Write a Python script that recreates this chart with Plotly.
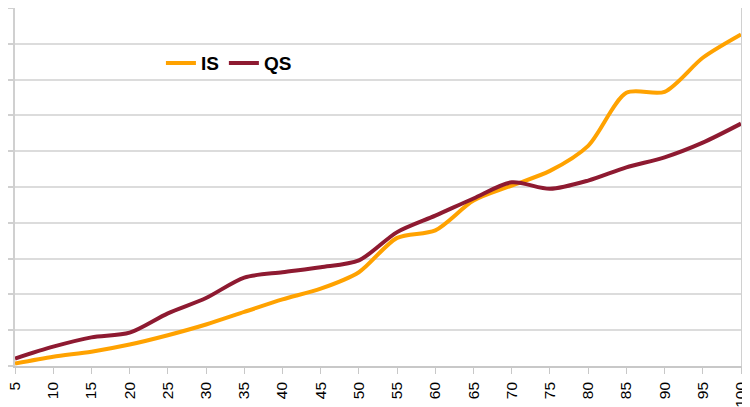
import plotly.graph_objects as go

x_values = [5, 10, 15, 20, 25, 30, 35, 40, 45, 50, 55, 60, 65, 70, 75, 80, 85, 90, 95, 100]
is_values = [0.07, 0.26, 0.40, 0.60, 0.86, 1.16, 1.51, 1.86, 2.16, 2.62, 3.58, 3.79, 4.62, 5.04, 5.45, 6.15, 7.63, 7.66, 8.61, 9.26]
qs_values = [0.21, 0.54, 0.80, 0.93, 1.47, 1.90, 2.47, 2.62, 2.76, 2.95, 3.74, 4.20, 4.68, 5.13, 4.95, 5.18, 5.55, 5.83, 6.24, 6.77]
y_ticks = list(range(0, 11))

fig = go.Figure()
fig.add_trace(go.Scatter(x=x_values, y=is_values, name="IS", mode="lines",
                         line=dict(color="#FFA200", width=4, shape="spline", smoothing=0.8)))
fig.add_trace(go.Scatter(x=x_values, y=qs_values, name="QS", mode="lines",
                         line=dict(color="#8E1A31", width=4, shape="spline", smoothing=0.8)))

fig.update_layout(
    width=750, height=407,
    margin=dict(l=7, r=17, t=0, b=49, autoexpand=False),
    paper_bgcolor="white", plot_bgcolor="white",
    font=dict(family="Liberation Sans, Arial, sans-serif", color="black"),
    legend=dict(orientation="h", x=0.201, y=0.846, xanchor="left", yanchor="middle",
                font=dict(size=19, family="Liberation Sans, Arial, sans-serif", color="black", weight="bold"),
                itemwidth=30, bgcolor="rgba(0,0,0,0)", borderwidth=0),
    xaxis=dict(range=[5, 100], tickvals=x_values, ticktext=[str(v) for v in x_values],
               tickangle=-90, tickfont=dict(size=15.5), ticks="outside", ticklen=6,
               tickcolor="#c8c8c8", showline=True, linecolor="#c8c8c8", linewidth=1.5,
               showgrid=False, zeroline=False, automargin=False,
               ticklabeloverflow="allow", ticklabelstandoff=2),
    yaxis=dict(range=[0, 10], tickvals=y_ticks, showticklabels=False, ticks="outside",
               ticklen=8, tickcolor="#d0d0d0", tickwidth=1.5, showline=True, linecolor="#d0d0d0",
               linewidth=1.5, mirror=True, showgrid=True, gridcolor="#dcdcdc", gridwidth=1.5,
               zeroline=False, automargin=False),
)

fig.write_html("out.html")
